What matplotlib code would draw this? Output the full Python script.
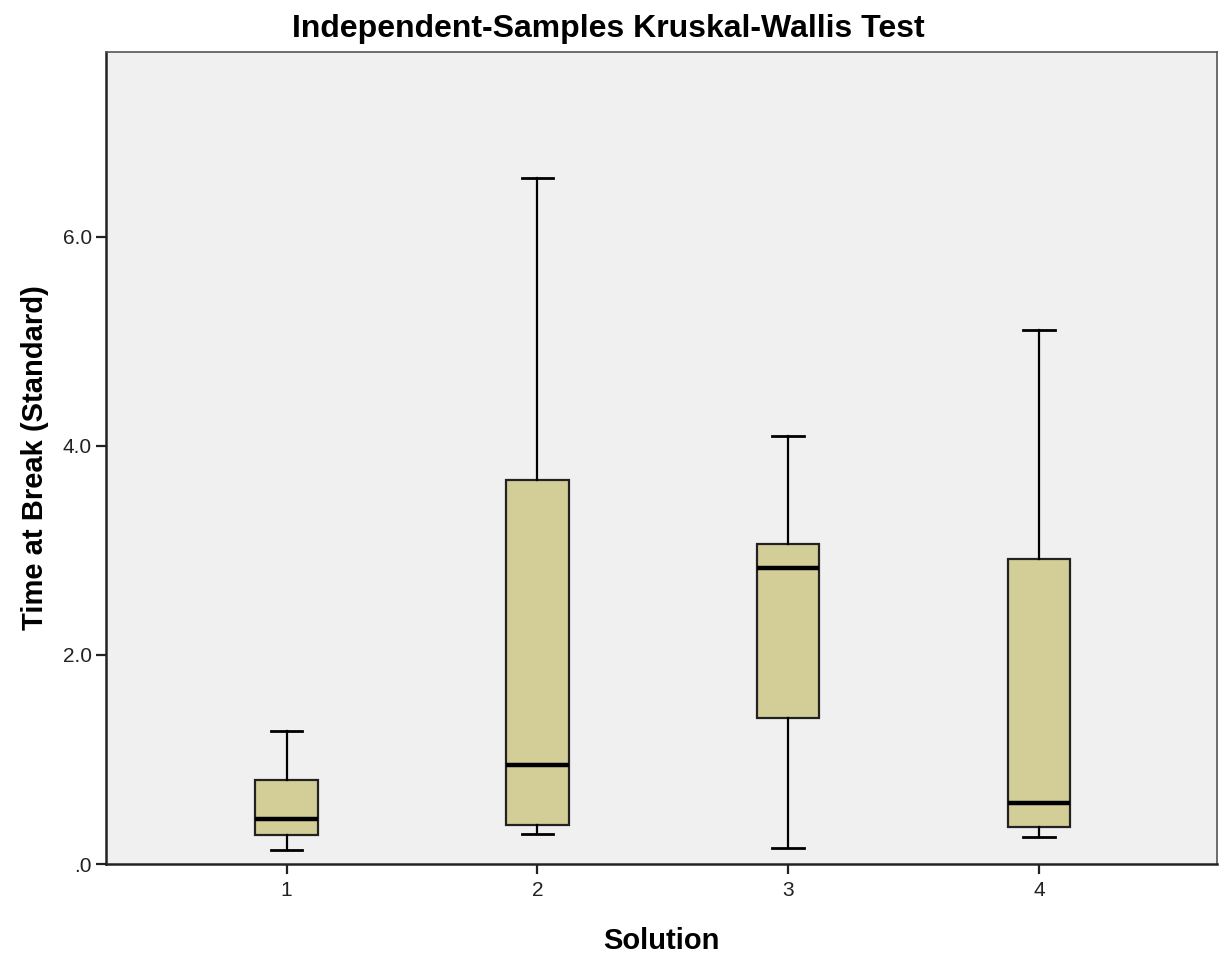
import matplotlib
matplotlib.use("Agg")
import matplotlib.pyplot as plt

plt.rcParams['font.family'] = ['Liberation Sans', 'DejaVu Sans']

categories = ["1", "2", "3", "4"]
whislo = [0.13, 0.29, 0.15, 0.26]
q1 = [0.28, 0.37, 1.40, 0.35]
med = [0.43, 0.95, 2.83, 0.58]
q3 = [0.80, 3.67, 3.06, 2.92]
whishi = [1.27, 6.56, 4.10, 5.11]

stats = []
for i, c in enumerate(categories):
    stats.append(dict(label=c, whislo=whislo[i], q1=q1[i], med=med[i],
                      q3=q3[i], whishi=whishi[i], fliers=[]))

fig = plt.figure(figsize=(12.25, 9.55), dpi=100)
ax = fig.add_axes([106/1225, 1 - 864/955, (1217-106)/1225, (864-52)/955])
ax.set_facecolor('#F0F0F0')

ax.bxp(stats, positions=[1, 2, 3, 4], widths=0.25, patch_artist=True,
       showfliers=False,
       boxprops=dict(facecolor='#D3CE98', edgecolor='#222222', linewidth=1.6),
       medianprops=dict(color='black', linewidth=3.2),
       whiskerprops=dict(color='black', linewidth=1.6),
       capprops=dict(color='black', linewidth=2.0),
       capwidths=0.125)

ax.set_xlim(0.28, 4.71)
ax.set_ylim(0, 7.77)
ax.set_yticks([0, 2, 4, 6])
ax.set_yticklabels(['.0', '2.0', '4.0', '6.0'])
ax.set_xticks([1, 2, 3, 4])
ax.set_xticklabels(categories)
ax.tick_params(axis='both', direction='out', length=7, width=1.6, labelsize=15,
               colors='#222222')
ax.tick_params(axis='x', pad=5)
ax.tick_params(axis='y', pad=3)
for s in ['left', 'bottom']:
    ax.spines[s].set_linewidth(1.8)
    ax.spines[s].set_color('#222222')
for s in ['top', 'right']:
    ax.spines[s].set_linewidth(1.2)
    ax.spines[s].set_color('#555555')

ax.set_xlabel('Solution', fontsize=21, fontweight='bold', labelpad=20)
ax.set_ylabel('Time at Break (Standard)', fontsize=21, fontweight='bold', labelpad=10)
fig.text(608/1225, 1 - 29/955, 'Independent-Samples Kruskal-Wallis Test',
         ha='center', va='center', fontsize=23, fontweight='bold')

fig.savefig('out.png', dpi=100)
